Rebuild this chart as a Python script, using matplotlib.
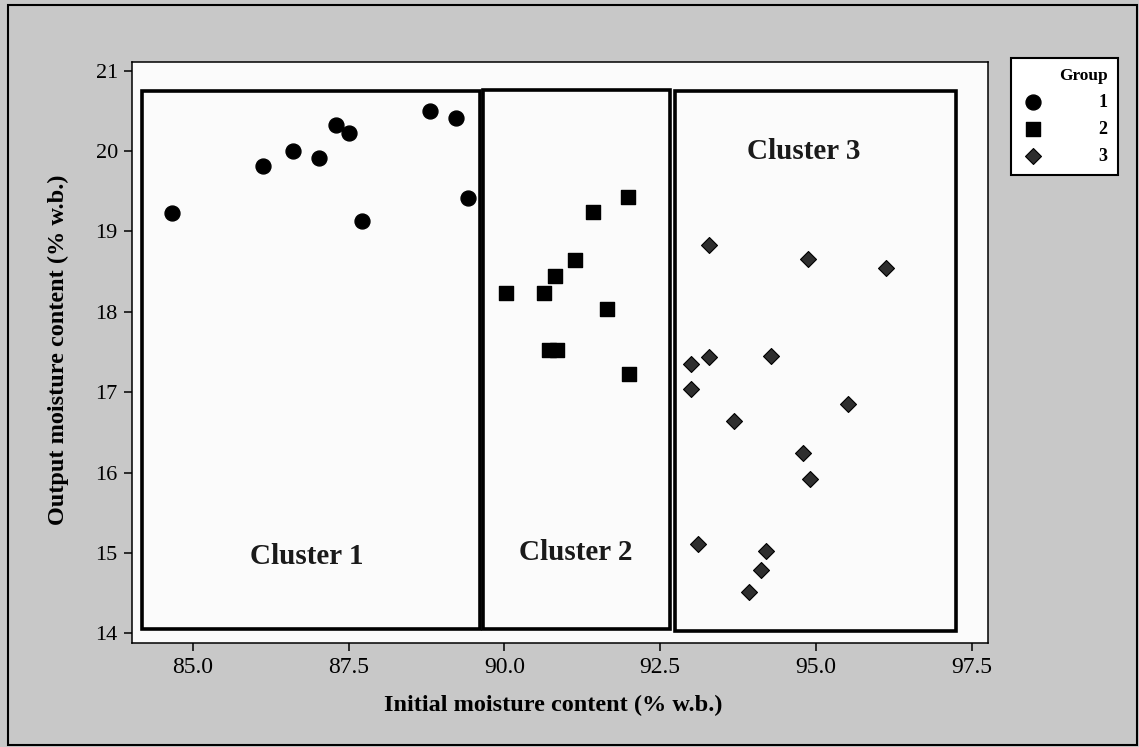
import matplotlib
matplotlib.use("Agg")
import matplotlib.pyplot as plt
from matplotlib.patches import Rectangle

# values
g1_x = [84.66, 86.12, 86.61, 87.02, 87.30, 87.51, 87.71, 88.81, 89.22, 89.42]
g1_y = [19.23, 19.81, 20.00, 19.91, 20.32, 20.22, 19.13, 20.50, 20.41, 19.42]
g2_x = [90.03, 90.63, 90.82, 91.14, 91.42, 91.98, 91.65, 90.71, 90.85, 92.00]
g2_y = [18.23, 18.23, 18.45, 18.64, 19.24, 19.43, 18.04, 17.53, 17.53, 17.23]
g3_x = [93.29, 94.88, 96.12, 93.29, 92.99, 94.28, 92.99, 95.52, 93.69,
        94.80, 94.91, 93.10, 94.20, 94.12, 93.93]
g3_y = [18.83, 18.65, 18.55, 17.44, 17.35, 17.45, 17.04, 16.85, 16.64,
        16.24, 15.92, 15.11, 15.03, 14.79, 14.51]
groups = ["1", "2", "3"]
clusters = ["Cluster 1", "Cluster 2", "Cluster 3"]

x_ticks = [85.0, 87.5, 90.0, 92.5, 95.0, 97.5]
y_ticks = [14, 15, 16, 17, 18, 19, 20, 21]

# cluster boxes (x0, x1, y0, y1) and label centres
boxes = [(84.19, 89.61, 14.05, 20.75), (89.66, 92.66, 14.05, 20.76),
         (92.74, 97.24, 14.03, 20.74)]
label_pos = [(86.83, 14.95), (91.15, 15.0), (94.81, 19.99)]

plt.rcParams["font.family"] = ["Liberation Serif", "DejaVu Serif"]

fig = plt.figure(figsize=(11.39, 7.47), dpi=100, facecolor="#c8c8c8")
ax = fig.add_axes([0.1156, 0.1392, 0.7518, 0.7782])
ax.set_facecolor("#fbfbfb")

h1 = ax.scatter(g1_x, g1_y, marker="o", s=115, color="black", zorder=3)
h2 = ax.scatter(g2_x, g2_y, marker="s", s=100, color="black", zorder=3)
h3 = ax.scatter(g3_x, g3_y, marker="D", s=66, color="#2e2e2e",
                edgecolor="black", linewidth=0.8, zorder=3)

for (x0, x1, y0, y1), name, (tx, ty) in zip(boxes, clusters, label_pos):
    ax.add_patch(Rectangle((x0, y0), x1 - x0, y1 - y0, fill=False,
                           edgecolor="black", linewidth=2.6, zorder=2))
    ax.text(tx, ty, name, ha="center", va="center", fontsize=21,
            fontweight="bold", color="#1a1a1a")

ax.set_xlim(84.02, 97.76)
ax.set_ylim(13.88, 21.11)
ax.set_xticks(x_ticks)
ax.set_xticklabels(["%.1f" % v for v in x_ticks], fontsize=17)
ax.set_yticks(y_ticks)
ax.set_yticklabels([str(v) for v in y_ticks], fontsize=16)
ax.tick_params(direction="out", length=6, width=1.1, color="black", pad=4)
for sp in ax.spines.values():
    sp.set_linewidth(1.1)

ax.set_xlabel("Initial moisture content (% w.b.)", fontsize=17.5,
              fontweight="bold", va="center")
ax.xaxis.set_label_coords(0.492, -0.1067)
ax.set_ylabel("Output moisture content (% w.b.)", fontsize=17.5,
              fontweight="bold", va="center", ha="center")
ax.yaxis.set_label_coords(-0.086, 0.504)

leg = ax.legend([h1, h2, h3], groups, title="Group", loc="upper left",
                bbox_to_anchor=(1011 / 1139, 1 - 58 / 747),
                bbox_transform=fig.transFigure, borderaxespad=0,
                alignment="right", handlelength=1.3, handletextpad=3.0,
                labelspacing=0.55, borderpad=0.55, fancybox=False,
                edgecolor="black", facecolor="white", framealpha=1,
                prop={"weight": "bold", "size": 13},
                title_fontproperties={"weight": "bold", "size": 12.5})
leg.get_frame().set_linewidth(1.5)

fig.patches.append(Rectangle((8 / 1139, 2 / 747), 1129 / 1139, 740 / 747,
                             transform=fig.transFigure, fill=False,
                             edgecolor="black", linewidth=1.5))

fig.savefig("out.png", dpi=100, facecolor=fig.get_facecolor())
